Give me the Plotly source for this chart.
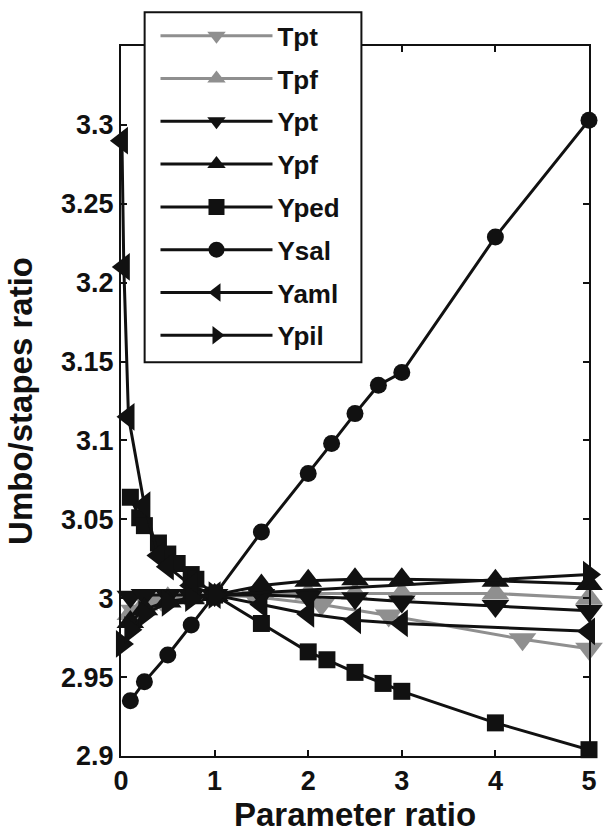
import plotly.graph_objects as go

# ---- data ----
tpt_x = [0.14, 0.29, 0.43, 0.71, 1, 1.43, 2.14, 2.86, 4.29, 5]
tpt_y = [2.992, 2.997, 2.999, 3.001, 3.002, 3.001, 2.996, 2.989, 2.974, 2.968]

tpf_x = [0.1, 0.25, 0.5, 0.75, 1, 1.5, 2, 2.5, 3, 4, 5]
tpf_y = [2.990, 2.996, 3.000, 3.001, 3.002, 3.003, 3.003, 3.003, 3.003, 3.003, 3.000]

ypt_x = [0.1, 0.25, 0.5, 0.75, 1, 1.5, 2, 2.5, 3, 4, 5]
ypt_y = [3.001, 3.002, 3.002, 3.002, 3.002, 3.002, 3.001, 3.000, 2.998, 2.995, 2.992]

ypf_x = [0.1, 0.25, 0.5, 0.75, 1, 1.5, 2, 2.5, 3, 4, 5]
ypf_y = [2.985, 2.993, 2.998, 3.000, 3.002, 3.008, 3.011, 3.012, 3.012, 3.011, 3.009]

yped_x = [0.1, 0.2, 0.25, 0.4, 0.5, 0.6, 0.75, 0.8, 1, 1.5, 2, 2.2, 2.5, 2.8, 3, 4, 5]
yped_y = [3.064, 3.051, 3.046, 3.035, 3.028, 3.022, 3.015, 3.012, 3.002, 2.984,
          2.966, 2.961, 2.953, 2.946, 2.941, 2.921, 2.904]

ysal_x = [0.1, 0.25, 0.5, 0.75, 1, 1.5, 2, 2.25, 2.5, 2.75, 3, 4, 5]
ysal_y = [2.935, 2.947, 2.964, 2.983, 3.002, 3.042, 3.079, 3.098, 3.117, 3.135, 3.143, 3.229, 3.303]

yaml_x = [0.01, 0.03, 0.08, 0.25, 0.4, 0.5, 0.75, 1, 1.5, 2, 2.5, 3, 5]
yaml_y = [3.290, 3.210, 3.115, 3.059, 3.027, 3.020, 3.008, 3.002, 2.996, 2.990, 2.986, 2.984, 2.979]

ypil_x = [0.01, 0.1, 0.25, 0.5, 0.75, 1, 5]
ypil_y = [2.971, 2.980, 2.990, 2.997, 3.000, 3.002, 3.015]

y_ticks = [2.9, 2.95, 3.0, 3.05, 3.1, 3.15, 3.2, 3.25, 3.3]
y_tick_text = ["2.9", "2.95", "3", "3.05", "3.1", "3.15", "3.2", "3.25", "3.3"]
x_ticks = [0, 1, 2, 3, 4, 5]

# ---- styling ----
BLACK = "#111111"
GREY = "#8f8f8f"
FONT = "Liberation Sans, Arial, Helvetica, sans-serif"

series = [
    ("Tpt", tpt_x, tpt_y, GREY, "triangle-down", 24),
    ("Tpf", tpf_x, tpf_y, GREY, "triangle-up", 24),
    ("Ypt", ypt_x, ypt_y, BLACK, "triangle-down", 24),
    ("Ypf", ypf_x, ypf_y, BLACK, "triangle-up", 24),
    ("Yped", yped_x, yped_y, BLACK, "square", 17),
    ("Ysal", ysal_x, ysal_y, BLACK, "circle", 17),
    ("Yaml", yaml_x, yaml_y, BLACK, "triangle-left", 24),
    ("Ypil", ypil_x, ypil_y, BLACK, "triangle-right", 24),
]

fig = go.Figure()
for name, xs, ys, col, sym, size in series:
    fig.add_trace(go.Scatter(
        x=xs, y=ys, name=name, mode="lines+markers",
        legendgroup=name,
        line=dict(color=col, width=3),
        marker=dict(symbol=sym, size=size, color=col, line=dict(width=0)),
        cliponaxis=False,
    ))

axis_common = dict(
    showline=True, linecolor=BLACK, linewidth=2, mirror="ticks",
    ticks="inside", ticklen=6, tickwidth=2, tickcolor=BLACK,
    showgrid=False, zeroline=False,
    tickfont=dict(family=FONT, size=27, color=BLACK, weight="bold"),
)

fig.update_layout(
    width=609, height=837,
    margin=dict(l=121, r=13, t=40, b=81),
    paper_bgcolor="white", plot_bgcolor="white",
    font=dict(family=FONT, color=BLACK),
    xaxis=dict(range=[0, 5], tickvals=x_ticks, **axis_common),
    yaxis=dict(range=[2.9, 3.35], tickvals=y_ticks, ticktext=y_tick_text,
               title=dict(text="Umbo/stapes ratio", standoff=18,
                          font=dict(family=FONT, size=33, color=BLACK, weight="bold")),
               **axis_common),
    legend=dict(
        x=0.0737, y=1.0475, xanchor="left", yanchor="top",
        bgcolor="rgba(0,0,0,0)", borderwidth=0,
        font=dict(family=FONT, size=26, color=BLACK, weight="bold"),
        itemwidth=112, tracegroupgap=6,
    ),
    showlegend=True,
    # legend frame (white box drawn over the data, below the legend entries)
    shapes=[dict(type="rect", xref="paper", yref="paper",
                 x0=0.0505, x1=0.5137, y0=0.5545, y1=1.0475,
                 fillcolor="white", line=dict(color=BLACK, width=2),
                 layer="above")],
    annotations=[dict(text="Parameter ratio", xref="paper", yref="paper",
                      x=0.5, y=-0.1117, xanchor="center", yanchor="bottom",
                      showarrow=False,
                      font=dict(family=FONT, size=33, color=BLACK, weight="bold"))],
)

fig.write_html("out.html",
               config={"displayModeBar": False},
               post_script="document.body.style.margin='0';document.body.style.overflow='hidden';")
